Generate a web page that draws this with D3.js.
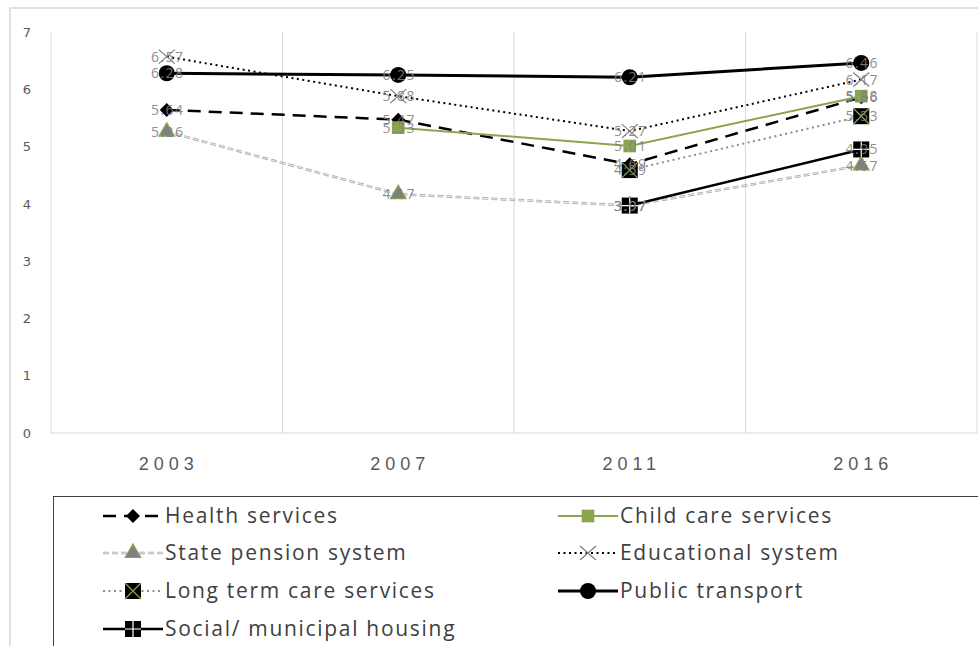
<!DOCTYPE html>
<html>
<head>
<meta charset="utf-8">
<script src="https://cdn.jsdelivr.net/npm/d3@7"></script>
<style>
  body { margin: 0; background: #fff; }
  svg { display: block; font-family: "Open Sans", "Noto Sans", sans-serif; }
</style>
</head>
<body>
<div id="chart"></div>
<script>
// categories and series values (null = no value that year)
var years = ["2003", "2007", "2011", "2016"];
var yTicks = [0, 1, 2, 3, 4, 5, 6, 7];

var healthServices = [5.64, 5.47, 4.69, 5.86];
var childCare = [null, 5.33, 5.01, 5.88];
var statePension = [5.26, 4.17, 3.97, 4.67];
var educational = [6.57, 5.88, 5.27, 6.17];
var longTermCare = [null, null, 4.59, 5.53];
var publicTransport = [6.28, 6.25, 6.21, 6.46];
var socialHousing = [null, null, 3.97, 4.95];

var seriesNames = ["Health services", "Child care services", "State pension system",
    "Educational system", "Long term care services", "Public transport", "Social/ municipal housing"];

var green = "#8aa64c";

var series = [
    { name: seriesNames[0], values: healthServices, stroke: "#000", width: 2.5, dash: "13,8", marker: "diamond" },
    { name: seriesNames[1], values: childCare, stroke: green, width: 2, dash: null, marker: "greenSquare" },
    { name: seriesNames[2], values: statePension, stroke: "#a6a6a6", width: 2.5, dash: "6,3", marker: "triangle", hollow: true },
    { name: seriesNames[3], values: educational, stroke: "#000", width: 2, dash: "2,3.5", marker: "times" },
    { name: seriesNames[4], values: longTermCare, stroke: "#8c8c8c", width: 2, dash: "2,3.5", marker: "boxX" },
    { name: seriesNames[5], values: publicTransport, stroke: "#000", width: 3, dash: null, marker: "circle" },
    { name: seriesNames[6], values: socialHousing, stroke: "#000", width: 2.5, dash: null, marker: "boxPlus" }
];

var svgWidth = 978, svgHeight = 646;
var plot = { left: 51, right: 977, top: 32, bottom: 433 };

var svg = d3.select("#chart").append("svg")
    .attr("width", svgWidth)
    .attr("height", svgHeight);

// outer chart frame
svg.append("rect")
    .attr("x", 10).attr("y", 8)
    .attr("width", 980).attr("height", 660)
    .attr("fill", "none")
    .attr("stroke", "#d9d9d9")
    .attr("stroke-width", 1.5);

var xBand = d3.scaleBand()
    .domain(years)
    .range([plot.left, plot.right])
    .padding(0);

var x = d => xBand(d) + xBand.bandwidth() / 2;

var y = d3.scaleLinear()
    .domain([0, 7])
    .range([plot.bottom, plot.top]);

// vertical gridlines between categories
var gridX = years.map(d => xBand(d)).concat([plot.right]);
svg.append("g").selectAll("line")
    .data(gridX)
    .enter()
    .append("line")
    .attr("x1", d => d).attr("x2", d => d)
    .attr("y1", plot.top).attr("y2", plot.bottom)
    .attr("stroke", "#d9d9d9")
    .attr("stroke-width", 1);

// bottom axis line
svg.append("line")
    .attr("x1", plot.left).attr("x2", plot.right)
    .attr("y1", plot.bottom).attr("y2", plot.bottom)
    .attr("stroke", "#d9d9d9");

// y axis labels
var yAxis = d3.axisLeft(y).tickValues(yTicks).tickSize(0).tickPadding(0).tickFormat(d3.format("d"));
var yG = svg.append("g")
    .attr("transform", "translate(31,0)")
    .call(yAxis);
yG.select(".domain").remove();
yG.selectAll("text")
    .attr("fill", "#595959")
    .style("font-size", "13px")
    .style("font-family", "'DejaVu Sans', sans-serif");

// x axis labels
var xAxis = d3.axisBottom(xBand).tickSize(0).tickPadding(0);
var xG = svg.append("g")
    .attr("transform", "translate(2,457)")
    .call(xAxis);
xG.select(".domain").remove();
xG.selectAll("text")
    .attr("fill", "#595959")
    .style("font-size", "18px")
    .style("letter-spacing", "5px");

// marker drawing
function drawMarker(g, type) {
    if (type === "diamond") {
        g.append("path").attr("d", "M0,-7L7,0L0,7L-7,0Z")
            .attr("fill", "#000");
    } else if (type === "greenSquare") {
        g.append("path").attr("d", d3.symbol(d3.symbolSquare, 160)())
            .attr("fill", green);
    } else if (type === "triangle") {
        g.append("path").attr("d", d3.symbol(d3.symbolTriangle, 105)())
            .attr("fill", "#808080")
            .attr("stroke", green)
            .attr("stroke-width", 1.2);
    } else if (type === "times") {
        g.append("path").attr("d", "M-8,-7L8,7M-8,7L8,-7")
            .attr("stroke", "#7f7f7f")
            .attr("stroke-width", 1.2)
            .attr("fill", "none");
    } else if (type === "boxX") {
        g.append("rect").attr("x", -8).attr("y", -8).attr("width", 16).attr("height", 16)
            .attr("fill", "#000");
        g.append("path").attr("d", "M-8,-8L8,8M-8,8L8,-8")
            .attr("stroke", green)
            .attr("stroke-width", 1.2);
    } else if (type === "circle") {
        g.append("circle").attr("r", 8).attr("fill", "#000");
    } else if (type === "boxPlus") {
        g.append("rect").attr("x", -8).attr("y", -8).attr("width", 16).attr("height", 16)
            .attr("fill", "#000");
        g.append("path").attr("d", "M0,-8V8M-8,0H8")
            .attr("stroke", "#fff")
            .attr("stroke-width", 1.2);
    }
}

var line = d3.line()
    .defined(d => d.v !== null)
    .x(d => x(d.year))
    .y(d => y(d.v));

function lineStyle(sel, s) {
    sel.attr("fill", "none")
        .attr("stroke", s.stroke)
        .attr("stroke-width", s.width)
        .attr("stroke-dasharray", s.dash);
}

// lines and markers
series.forEach(function(s) {
    var pts = years.map((yr, i) => ({ year: yr, v: s.values[i] }));
    var g = svg.append("g");
    g.append("path").datum(pts).attr("d", line).call(lineStyle, s);
    if (s.hollow) {
        g.append("path").datum(pts).attr("d", line)
            .attr("fill", "none").attr("stroke", "#fff")
            .attr("stroke-width", 0.8).attr("stroke-dasharray", s.dash);
    }
    pts.filter(d => d.v !== null).forEach(function(d) {
        var m = g.append("g").attr("transform", "translate(" + x(d.year) + "," + y(d.v) + ")");
        drawMarker(m, s.marker);
    });
});

// data labels centered on the points
series.forEach(function(s) {
    var pts = years.map((yr, i) => ({ year: yr, v: s.values[i] })).filter(d => d.v !== null);
    svg.append("g").selectAll("text")
        .data(pts)
        .enter()
        .append("text")
        .attr("x", d => x(d.year) + 1)
        .attr("y", d => y(d.v))
        .attr("dy", "0.36em")
        .attr("text-anchor", "middle")
        .attr("fill", "#808080")
        .attr("fill-opacity", 0.9)
        .style("font-size", "14px")
        .style("letter-spacing", "1.5px")
        .text(d => d3.format(".2f")(d.v));
});

// legend
var legend = svg.append("g");
legend.append("rect")
    .attr("x", 53.5).attr("y", 496.5)
    .attr("width", 960).attr("height", 200)
    .attr("fill", "none")
    .attr("stroke", "#404040")
    .attr("stroke-width", 1);

var legendCols = [103, 558];
var legendRows = [516, 553, 591, 629];

series.forEach(function(s, i) {
    var col = i % 2, row = Math.floor(i / 2);
    var lx = legendCols[col], ly = legendRows[row];
    var item = legend.append("g").attr("transform", "translate(" + lx + "," + ly + ")");
    item.append("line")
        .attr("x1", 0).attr("x2", 60).attr("y1", 0).attr("y2", 0)
        .call(lineStyle, s);
    if (s.hollow) {
        item.append("line").attr("x1", 0).attr("x2", 60)
            .attr("stroke", "#fff").attr("stroke-width", 0.8).attr("stroke-dasharray", s.dash);
    }
    var m = item.append("g").attr("transform", "translate(30,0)");
    drawMarker(m, s.marker);
    item.append("text")
        .attr("x", 62)
        .attr("dy", "0.35em")
        .attr("fill", "#404040")
        .style("font-size", "21px")
        .style("letter-spacing", "1.7px")
        .text(s.name);
});
</script>
</body>
</html>
